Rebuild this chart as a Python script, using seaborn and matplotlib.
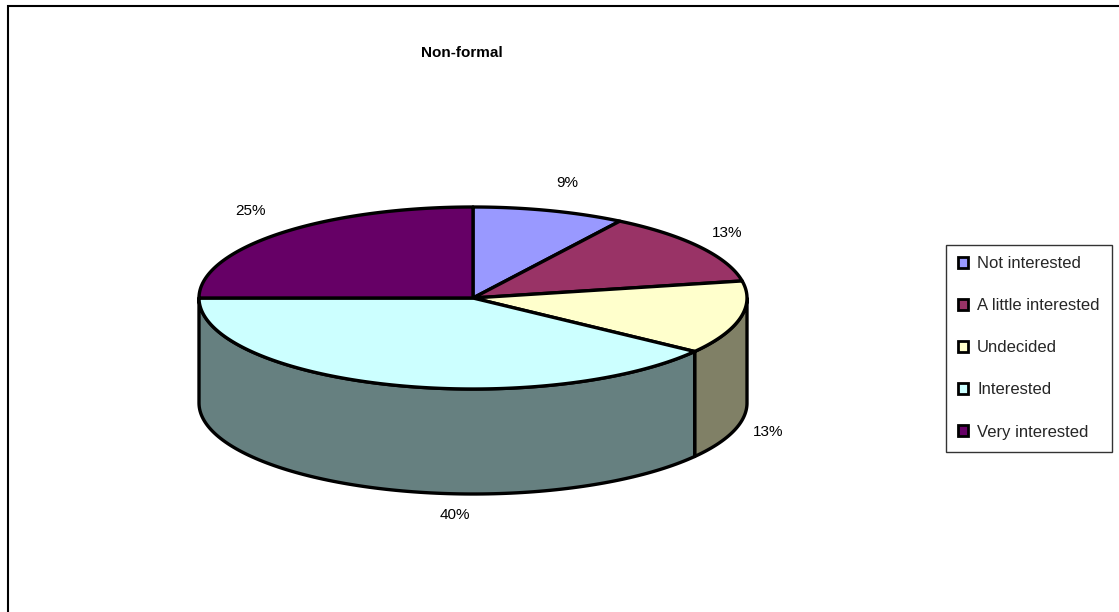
import numpy as np
import matplotlib
matplotlib.use("Agg")
import matplotlib.pyplot as plt
from matplotlib.patches import Polygon, Patch
import seaborn as sns

# Survey answers for the non-formal group
categories = ["Not interested", "A little interested", "Undecided", "Interested", "Very interested"]
shares = [9, 13, 13, 40, 25]
pct_labels = ["9%", "13%", "13%", "40%", "25%"]
face_colors = ["#9999FF", "#993366", "#FFFFCC", "#CCFFFF", "#660066"]

sns.set_theme(style="white")
plt.rcParams["font.family"] = ["Liberation Sans", "DejaVu Sans"]

W, H = 1119, 612
fig = plt.figure(figsize=(W / 100, H / 100), dpi=100)
ax = fig.add_axes([0, 0, 1, 1])
ax.set_xlim(0, W)
ax.set_ylim(H, 0)
ax.axis("off")

# geometry of the tilted disc (screen units)
cx, cy, rx, ry, depth = 473, 298, 274, 91, 105


def rim(theta_deg):
    t = np.radians(theta_deg)
    return cx + rx * np.cos(t), cy - ry * np.sin(t)


fracs = np.array(shares, dtype=float) / sum(shares)
edges = 90 - 360 * np.concatenate([[0], np.cumsum(fracs)])  # clockwise from 12 o'clock
palette = sns.color_palette(face_colors)
side_palette = [tuple(0.5 * np.array(c)) for c in palette]

# visible side wall: the front half of the rim (angles between -180 and 0)
for i in range(len(shares)):
    a, b = edges[i + 1], edges[i]
    for k in (-1, 0, 1):
        lo = max(a, -180 + 360 * k)
        hi = min(b, 360 * k)
        if hi > lo:
            t = np.linspace(lo, hi, 120)
            x, y = rim(t)
            poly = np.column_stack([np.r_[x, x[::-1]], np.r_[y, y[::-1] + depth]])
            ax.add_patch(Polygon(poly, closed=True, fc=side_palette[i], ec="black",
                                 lw=2.4, joinstyle="round", zorder=2))

# top face wedges
for i in range(len(shares)):
    t = np.linspace(edges[i + 1], edges[i], 200)
    x, y = rim(t)
    poly = np.column_stack([np.r_[cx, x], np.r_[cy, y]])
    ax.add_patch(Polygon(poly, closed=True, fc=palette[i], ec="black",
                         lw=2.4, joinstyle="round", zorder=3))

# percentage labels around the disc
label_xy = [(567, 183), (727, 233), (768, 432), (455, 515), (250, 211)]
for (lx, ly), txt in zip(label_xy, pct_labels):
    ax.text(lx, ly, txt, ha="center", va="center", fontsize=11, color="black")

ax.text(462, 53, "Non-formal", ha="center", va="center", fontsize=11,
        fontweight="bold", color="black")

# outer chart frame
ax.plot([8, 8, W + 5], [H + 5, 6, 6], color="black", lw=1.5, solid_joinstyle="miter", clip_on=False)

handles = [Patch(facecolor=c, edgecolor="black", linewidth=2.0) for c in palette]
leg = fig.legend(handles, categories, loc="center left",
                 bbox_to_anchor=(946 / W, 1 - 348 / H), frameon=True, fancybox=False,
                 fontsize=12, handlelength=0.6, handleheight=0.6, handletextpad=0.55,
                 labelspacing=1.62, borderpad=0.72, borderaxespad=0)
leg.get_frame().set_edgecolor("black")
leg.get_frame().set_linewidth(1.0)

fig.savefig("out.png", dpi=100, facecolor="white")
